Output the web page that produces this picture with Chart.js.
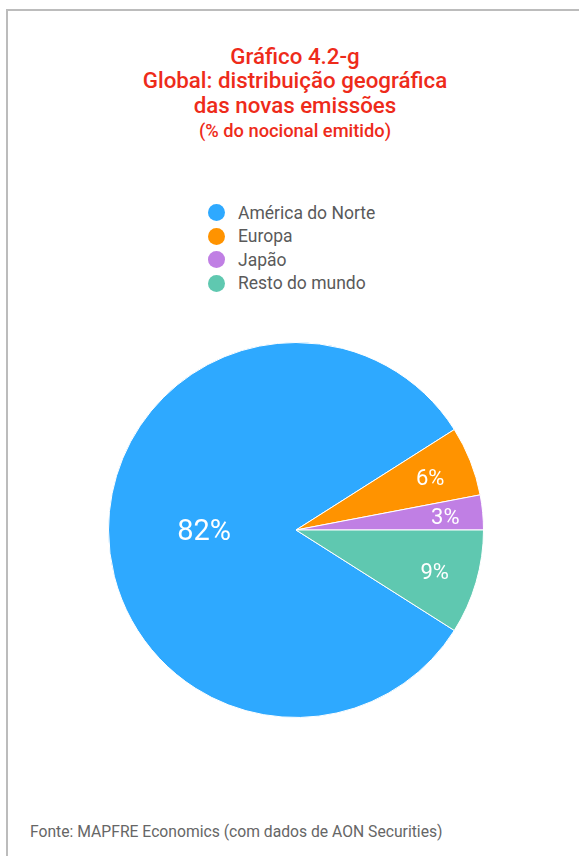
<!DOCTYPE html>
<html>
<head>
<meta charset="utf-8">
<script src="https://cdn.jsdelivr.net/npm/chart.js@4"></script>
<style>
  body { margin: 0; background: #fff; font-family: Roboto, sans-serif; }
  #page { position: relative; width: 579px; height: 856px; overflow: hidden; }
  #frame { position: absolute; left: 6px; top: 9px; width: 600px; height: 900px;
           border-left: 2px solid #bcbcbc; border-top: 2px solid #bcbcbc; }
  #title { position: absolute; left: 0; width: 590px; top: 44px; text-align: center;
           color: #ee2b1a; font-size: 22.3px; font-weight: 500; line-height: 24.3px; }
  #title .sub { font-size: 18.3px; }
  #legend { position: absolute; left: 208px; top: 201px; }
  .item { height: 23.5px; display: flex; align-items: center; color: #5a5a5a; font-size: 17.5px; }
  .dot { width: 17px; height: 17px; border-radius: 50%; margin-right: 13px; }
  #wrap { position: absolute; left: 108px; top: 342px; width: 376px; height: 376px; }
  #foot { position: absolute; left: 30px; top: 822px; color: #666; font-size: 15.7px; }
</style>
</head>
<body>
<div id="page">
  <div id="frame"></div>
  <div id="title">Gráfico 4.2-g<br>Global: distribuição geográfica<br>das novas emissões<br><span class="sub">(% do nocional emitido)</span></div>
  <div id="legend"></div>
  <div id="wrap"><canvas id="myChart" width="376" height="376"></canvas></div>
  <div id="foot">Fonte: MAPFRE Economics (com dados de AON Securities)</div>
</div>
<script>
let labels = ['América do Norte', 'Europa', 'Japão', 'Resto do mundo'];
let values = [82, 6, 3, 9];
let colorHex = ['#2ea9ff', '#ff9300', '#c07fe4', '#5fc8b0'];

// legend built from the same arrays
let legend = document.getElementById('legend');
labels.forEach((l, i) => {
  let row = document.createElement('div');
  row.className = 'item';
  row.innerHTML = '<span class="dot" style="background:' + colorHex[i] + '"></span>' + l;
  legend.appendChild(row);
});

// percent labels inside slices
let sliceLabels = {
  id: 'sliceLabels',
  afterDatasetsDraw(chart) {
    let c = chart.ctx;
    let meta = chart.getDatasetMeta(0);
    c.save();
    c.fillStyle = '#fff';
    c.textAlign = 'center';
    c.textBaseline = 'middle';
    meta.data.forEach((arc, i) => {
      let p = arc.getProps(['x', 'y', 'startAngle', 'endAngle', 'outerRadius']);
      let mid = (p.startAngle + p.endAngle) / 2;
      let big = values[i] > 50;
      let r = p.outerRadius * (big ? 0.49 : (values[i] < 5 ? 0.8 : 0.77));
      c.font = (big ? '29px' : '22px') + ' Roboto, sans-serif';
      c.fillText(values[i] + '%', p.x + Math.cos(mid) * r, p.y + Math.sin(mid) * r + 3);
    });
    c.restore();
  }
};

let ctx = document.getElementById('myChart').getContext('2d');
let myChart = new Chart(ctx, {
  type: 'pie',
  data: {
    labels: labels,
    datasets: [{
      data: values,
      backgroundColor: colorHex,
      borderColor: '#fff',
      borderWidth: 1
    }]
  },
  options: {
    responsive: false,
    animation: false,
    rotation: 122.4,
    plugins: {
      legend: { display: false },
      tooltip: { enabled: false }
    }
  },
  plugins: [sliceLabels]
});
</script>
</body>
</html>
